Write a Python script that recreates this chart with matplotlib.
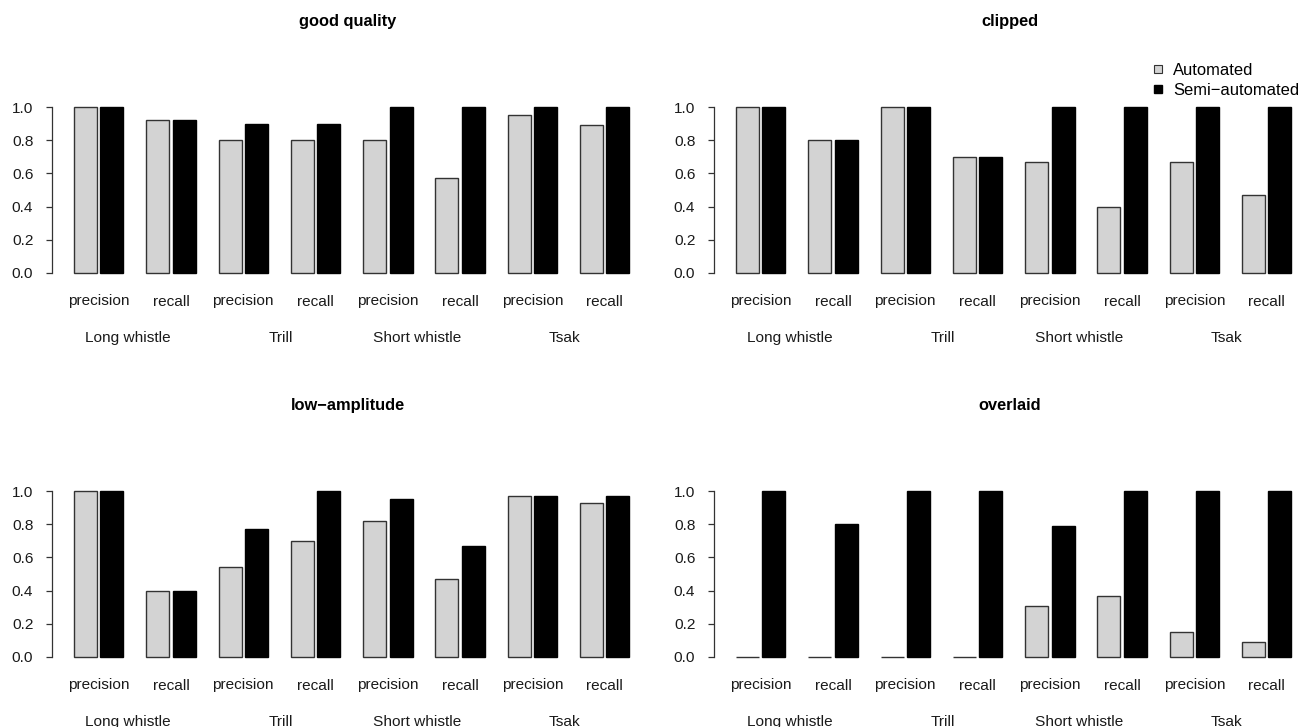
import matplotlib
matplotlib.use("Agg")
import matplotlib.pyplot as plt
from matplotlib.lines import Line2D
from matplotlib.ticker import FormatStrFormatter
import matplotlib.transforms as mtransforms

plt.rcParams['font.family'] = ['Liberation Sans', 'DejaVu Sans']

# detection scores per call type, precision/recall pairs
measures = ["precision", "recall"] * 4
call_types = ["Long whistle", "Trill", "Short whistle", "Tsak"]
call_label_pos = [3.35, 10.0, 15.93, 22.38]

titles = ["good quality", "clipped", "low\u2212amplitude", "overlaid"]

good_auto = [1.0, 0.92, 0.80, 0.80, 0.80, 0.57, 0.95, 0.89]
good_semi = [1.0, 0.92, 0.90, 0.90, 1.0, 1.0, 1.0, 1.0]

clipped_auto = [1.0, 0.80, 1.0, 0.70, 0.67, 0.40, 0.67, 0.47]
clipped_semi = [1.0, 0.80, 1.0, 0.70, 1.0, 1.0, 1.0, 1.0]

lowamp_auto = [1.0, 0.40, 0.54, 0.70, 0.82, 0.47, 0.97, 0.93]
lowamp_semi = [1.0, 0.40, 0.77, 1.0, 0.95, 0.67, 0.97, 0.97]

overlaid_auto = [0.0, 0.0, 0.0, 0.0, 0.31, 0.37, 0.15, 0.09]
overlaid_semi = [1.0, 0.80, 1.0, 1.0, 0.79, 1.0, 1.0, 1.0]

panels = [(good_auto, good_semi), (clipped_auto, clipped_semi),
          (lowamp_auto, lowamp_semi), (overlaid_auto, overlaid_semi)]

W, H = 1298, 727
fig = plt.figure(figsize=(W / 100, H / 100), dpi=100)

LIGHT = "#d3d3d3"
EDGE = "#333333"
FS = 11.1

# barplot(beside=TRUE, space=c(0.15, 1)) layout
INNER, OUTER = 0.15, 1.0
PITCH = 2 + INNER + OUTER

axes = []
for i, (auto, semi) in enumerate(panels):
    col, row = i % 2, i // 2
    left = 51.8 + 662 * col
    right = 651.6 + 662 * col
    top = 100.4 + 384 * row
    bottom = 279.6 + 384 * row
    ax = fig.add_axes([left / W, 1 - bottom / H, (right - left) / W, (bottom - top) / H])
    axes.append(ax)

    xa = [OUTER + PITCH * k for k in range(len(auto))]
    xs = [OUTER + 1 + INNER + PITCH * k for k in range(len(semi))]
    ax.bar(xa, auto, width=1, align='edge', color=LIGHT, edgecolor=EDGE, linewidth=1.0)
    ax.bar(xs, semi, width=1, align='edge', color="black", edgecolor="black", linewidth=1.0)

    x_lo, x_hi = OUTER, xs[-1] + 1
    pad = 0.04 * (x_hi - x_lo)
    ax.set_xlim(x_lo - pad, x_hi + pad)
    ax.set_ylim(-0.04, 1.04)
    for s in ["top", "right", "bottom"]:
        ax.spines[s].set_visible(False)
    ax.spines["left"].set_bounds(0, 1)
    ax.spines["left"].set_color(EDGE)
    ax.spines["left"].set_linewidth(0.9)
    ax.set_yticks([0, 0.2, 0.4, 0.6, 0.8, 1.0])
    ax.yaxis.set_major_formatter(FormatStrFormatter('%.1f'))
    ax.tick_params(axis='y', length=4.3, width=0.9, color=EDGE, pad=9,
                   labelsize=FS, labelcolor="#1a1a1a")
    ax.set_xticks([])

    trans = mtransforms.blended_transform_factory(ax.transData, fig.transFigure)
    for k, m in enumerate(measures):
        ax.text(xa[k] + 1 + INNER / 2, 1 - (305.5 + 384 * row) / H, m, transform=trans,
                ha='center', va='baseline', fontsize=FS, color="#1a1a1a")
    for pos, name in zip(call_label_pos, call_types):
        ax.text(pos, 1 - (342 + 384 * row) / H, name, transform=trans,
                ha='center', va='baseline', fontsize=FS, color="#1a1a1a")

    fig.text((left + right) / 2 / W - 0.003, 1 - (26 + 384 * row) / H, titles[i],
             ha='center', va='baseline', fontsize=11.8, fontweight='bold')

handles = [
    Line2D([], [], marker='s', linestyle='None', markersize=5.5,
           markerfacecolor=LIGHT, markeredgecolor=EDGE, markeredgewidth=0.8, label="Automated"),
    Line2D([], [], marker='s', linestyle='None', markersize=5.5,
           markerfacecolor="black", markeredgecolor="black", label="Semi\u2212automated"),
]
axes[1].legend(handles=handles, loc='upper left', bbox_to_anchor=(1142.5 / W, 1 - 55 / H),
               bbox_transform=fig.transFigure, frameon=False, borderpad=0,
               handlelength=0.9, handletextpad=0.45, labelspacing=0.3, fontsize=11.9)

fig.savefig("out.png", dpi=100)
